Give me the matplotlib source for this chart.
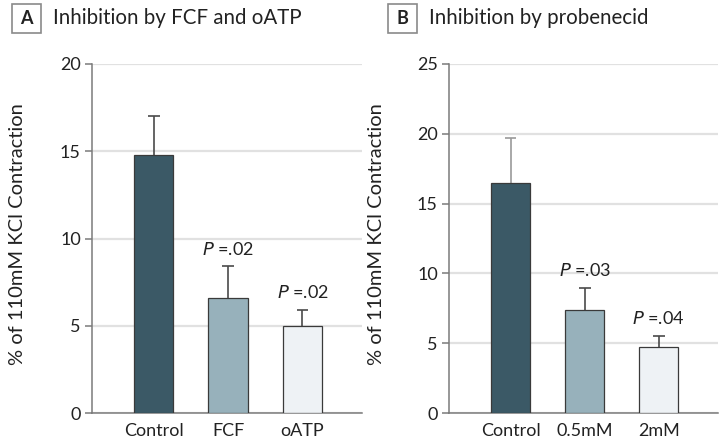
import matplotlib
matplotlib.use('Agg')
import matplotlib.pyplot as plt
from matplotlib.patches import Rectangle

plt.rcParams['font.family'] = ['Lato', 'DejaVu Sans']

# panel A
cats_a = ['Control', 'FCF', 'oATP']
vals_a = [14.8, 6.6, 5.0]
errs_a = [2.2, 1.8, 0.9]
pvals_a = [None, '.02', '.02']

# panel B
cats_b = ['Control', '0.5mM', '2mM']
vals_b = [16.5, 7.35, 4.75]
errs_b = [3.2, 1.6, 0.8]
pvals_b = [None, '.03', '.04']

colors = ['#3b5966', '#97b1bb', '#eef2f5']
err_cols = ['#4a4a4a', '#4a4a4a', '#4a4a4a']
W, H = 719, 446
fig = plt.figure(figsize=(W / 100, H / 100), dpi=100)


def panel(rect, cats, vals, errs, pvals, ymax, letter, title, lx, bx, ecols):
    ax = fig.add_axes([rect[0] / W, (H - rect[3]) / H,
                       (rect[2] - rect[0]) / W, (rect[3] - rect[1]) / H])
    x = list(range(len(cats)))
    ax.bar(x, vals, width=0.53, color=colors, edgecolor='#3a3a3a',
           linewidth=0.9, zorder=3)
    tops = [v + e for v, e in zip(vals, errs)]
    ax.vlines(x, vals, tops, colors=ecols, linewidth=1.2, zorder=2)
    ax.hlines(tops, [i - 0.08 for i in x], [i + 0.08 for i in x],
              colors=ecols, linewidth=1.2, zorder=2)
    for i, p in enumerate(pvals):
        if p:
            ax.text(i, tops[i] + ymax * 0.025, r'$\it{P}$ =' + p,
                    ha='center', va='bottom', fontsize=13, color='#222222')
    ax.set_xlim(-0.83, 2.8)
    ax.set_ylim(0, ymax)
    ax.set_yticks(range(0, ymax + 1, 5))
    ax.set_xticks(x)
    ax.set_xticklabels(cats)
    ax.yaxis.grid(True, color='#e1e1e1', linewidth=1.6, zorder=0)
    ax.set_axisbelow(True)
    for s in ['top', 'right']:
        ax.spines[s].set_visible(False)
    for s in ['left', 'bottom']:
        ax.spines[s].set_color('#7a7a7a')
        ax.spines[s].set_linewidth(1.1)
    ax.tick_params(axis='y', length=5, width=1.1, color='#7a7a7a',
                   labelsize=13, pad=3, labelcolor='#222222')
    ax.tick_params(axis='x', length=0, labelsize=13, pad=7,
                   labelcolor='#222222')
    fig.text(lx / W, 1 - 234 / H, '% of 110mM KCl Contraction', rotation=90,
             ha='center', va='center', fontsize=14.5, color='#222222')
    fig.patches.append(Rectangle((bx / W, (H - 33) / H), 29 / W, 29 / H,
                                 transform=fig.transFigure, fill=False,
                                 edgecolor='#8a8a8a', linewidth=1.2))
    fig.text((bx + 14.5) / W, (H - 18.5) / H, letter, ha='center',
             va='center', fontsize=13, fontweight='bold', color='#222222')
    fig.text((bx + 41) / W, (H - 18.5) / H, title, ha='left', va='center',
             fontsize=14.8, color='#222222')
    return ax


panel((92, 64, 362, 413), cats_a, vals_a, errs_a, pvals_a, 20, 'A',
      'Inhibition by FCF and oATP', 18, 12, err_cols)
panel((449, 64, 718, 413), cats_b, vals_b, errs_b, pvals_b, 25, 'B',
      'Inhibition by probenecid', 377, 388, ['#9a9a9a'] + err_cols[1:])

fig.savefig('out.png', dpi=100)
